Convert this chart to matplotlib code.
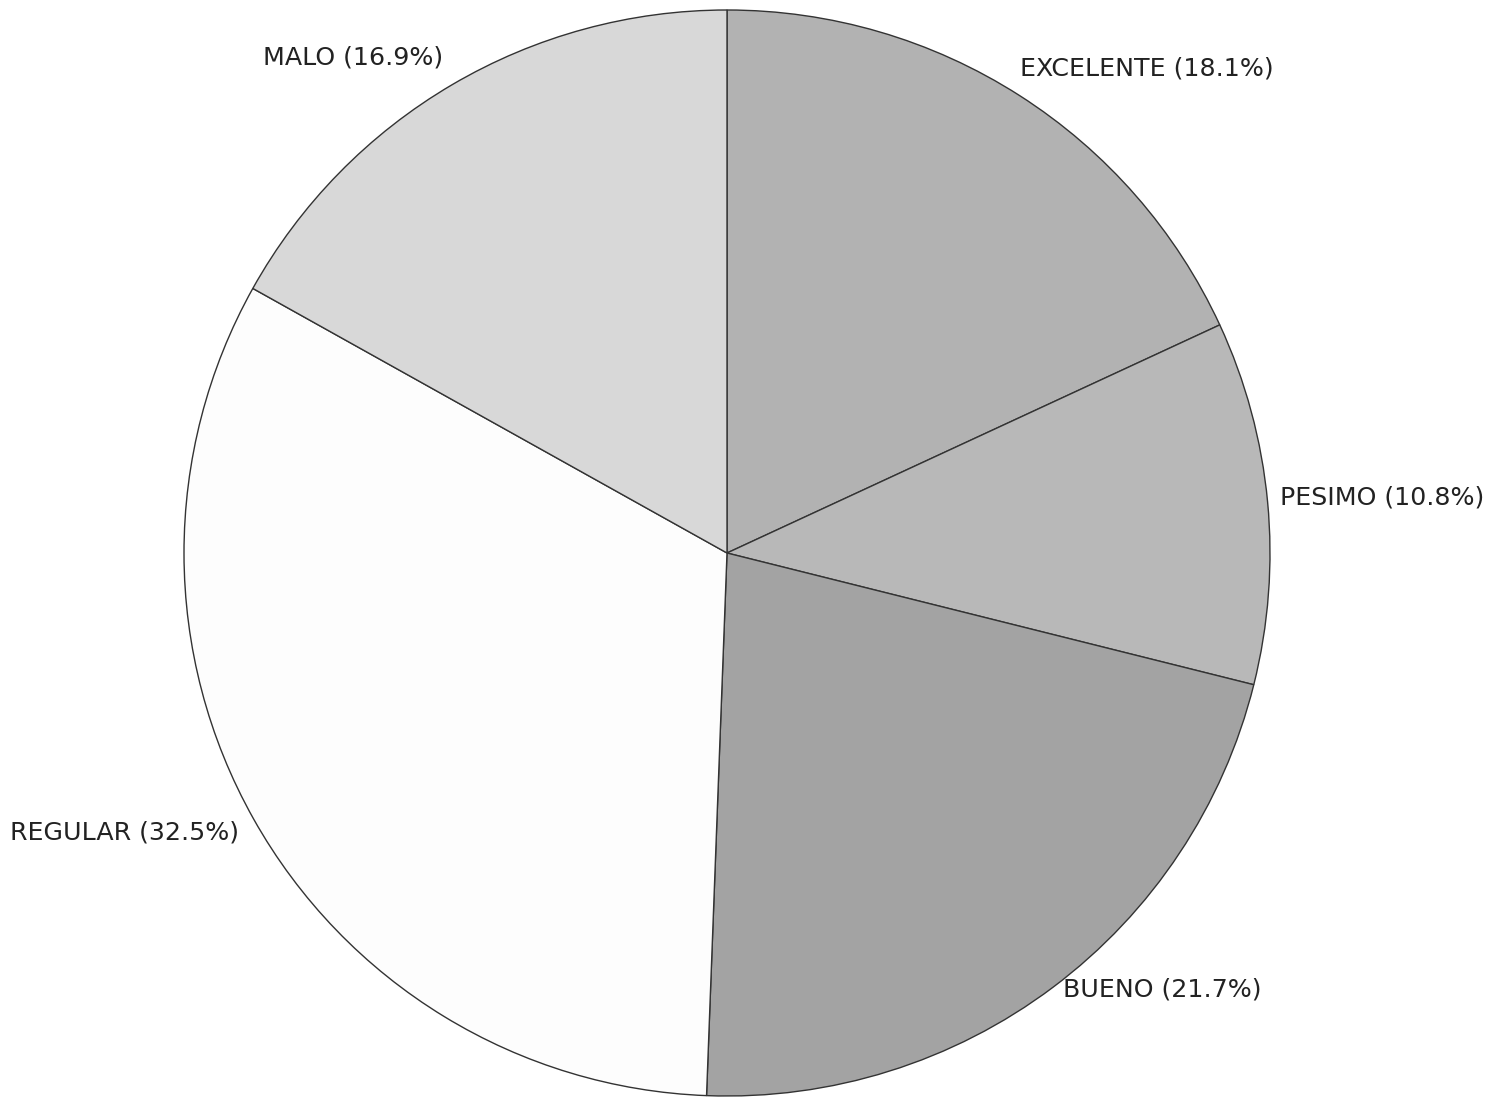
import matplotlib
matplotlib.use("Agg")
import matplotlib.pyplot as plt
import numpy as np

categories = ["EXCELENTE", "PESIMO", "BUENO", "REGULAR", "MALO"]
percentages = [18.1, 10.8, 21.7, 32.5, 16.9]
colors = ["#b2b2b2", "#b8b8b8", "#a3a3a3", "#fdfdfd", "#d8d8d8"]
labels = [f"{c} ({p:.1f}%)" for c, p in zip(categories, percentages)]

# label anchor positions (layout, in units of the pie radius)
label_xy = [(0.540, 0.893), (1.018, 0.103), (0.619, -0.804),
            (-0.898, -0.514), (-0.523, 0.912)]

fig = plt.figure(figsize=(15.01, 11.02), dpi=100)
ax = fig.add_axes([184 / 1501, 6 / 1102, 1086 / 1501, 1086 / 1102])
wedges, texts = ax.pie(
    percentages, colors=colors, startangle=90, counterclock=False,
    labels=labels, labeldistance=1.04,
    wedgeprops=dict(edgecolor="#333333", linewidth=1.0),
    textprops=dict(fontsize=18.2, family="DejaVu Sans", color="#222222"),
)
for t, (x, y) in zip(texts, label_xy):
    t.set_position((x, y))
    t.set_ha("left" if x > 0 else "right")
    t.set_va("center")
ax.set_xlim(-1, 1)
ax.set_ylim(-1, 1)
ax.set_aspect("equal")
ax.axis("off")
fig.savefig("out.png", dpi=100, facecolor="white")
